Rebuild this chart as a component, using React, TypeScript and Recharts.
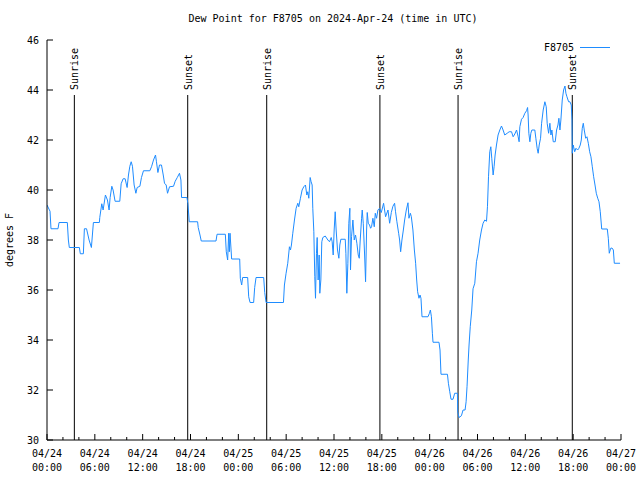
import React from 'react';
import { LineChart, Line, XAxis, YAxis, ReferenceLine, Legend } from 'recharts';

const hours: number[] = [
  0.0, 0.38, 0.5, 1.38, 1.51, 2.55, 2.68, 2.8, 4.06, 4.18, 4.56, 4.69, 4.96, 5.28, 5.57, 5.82, 6.57, 6.62, 6.87, 7.04,
  7.33, 7.58, 7.79, 7.92, 8.13, 8.29, 8.54, 9.13, 9.3, 9.55, 9.8, 10.05, 10.22, 10.39, 10.56, 10.72, 10.93, 11.15, 11.31, 11.65,
  11.85, 12.1, 12.9, 13.11, 13.36, 13.61, 13.73, 13.91, 14.11, 14.36, 14.58, 14.74, 14.95, 15.12, 15.37, 15.87, 16.08, 16.34, 16.62, 16.8,
  16.88, 17.55, 17.68, 17.84, 18.89, 18.97, 19.19, 19.35, 21.2, 21.33, 22.37, 22.49, 22.66, 22.79, 22.87, 22.96, 23.16, 24.17, 24.25, 24.42,
  24.54, 25.17, 25.3, 25.47, 25.92, 26.05, 26.22, 27.18, 27.31, 27.48, 29.66, 29.78, 29.99, 30.2, 30.41, 30.54, 30.66, 30.83, 31.04, 31.25,
  31.46, 31.58, 31.79, 32.0, 32.21, 32.42, 32.59, 32.71, 32.84, 33.01, 33.13, 33.26, 33.34, 33.47, 33.59, 33.68, 33.8, 33.89, 34.01, 34.14,
  34.22, 34.35, 34.47, 34.6, 34.9, 35.23, 35.44, 35.65, 35.77, 35.9, 36.02, 36.15, 36.27, 36.44, 36.61, 36.73, 36.86, 37.41, 37.49, 37.61,
  37.74, 37.86, 37.99, 38.07, 38.2, 38.37, 38.54, 38.7, 38.87, 39.04, 39.17, 39.29, 39.46, 39.54, 39.67, 39.84, 39.96, 40.09, 40.17, 40.3,
  40.46, 40.59, 40.71, 40.88, 41.05, 41.18, 41.34, 41.51, 41.72, 41.93, 42.22, 42.47, 42.77, 42.98, 43.19, 43.39, 43.6, 43.72, 43.89, 44.11,
  44.23, 44.36, 44.52, 44.7, 44.86, 45.07, 45.28, 45.4, 45.58, 45.7, 45.9, 46.08, 46.24, 46.37, 46.49, 46.66, 46.79, 46.91, 47.04, 47.79,
  47.97, 48.09, 48.22, 48.34, 48.42, 49.17, 49.3, 49.42, 50.23, 50.35, 50.52, 50.68, 50.93, 51.14, 51.48, 51.52, 51.68, 51.98, 52.19, 52.44,
  52.57, 52.69, 52.84, 52.94, 53.09, 53.28, 53.44, 53.66, 53.87, 54.07, 54.28, 54.5, 54.7, 54.91, 55.13, 55.25, 55.38, 55.54, 55.67, 55.79,
  55.96, 56.08, 56.21, 56.38, 56.58, 56.8, 57.01, 57.21, 57.42, 57.72, 57.97, 58.27, 58.47, 58.68, 58.9, 59.1, 59.22, 59.31, 59.52, 59.72,
  59.94, 60.15, 60.28, 60.35, 60.44, 60.57, 60.69, 60.82, 61.19, 61.32, 61.48, 61.61, 61.74, 61.91, 62.04, 62.24, 62.45, 62.62, 62.74, 62.92,
  63.08, 63.21, 63.33, 63.5, 63.75, 63.92, 64.09, 64.21, 64.34, 64.46, 64.63, 64.8, 64.97, 65.09, 65.22, 65.43, 65.59, 65.76, 65.85, 65.89,
  66.01, 66.19, 66.35, 66.56, 66.72, 66.89, 67.02, 67.14, 67.27, 67.39, 67.57, 67.73, 67.9, 68.07, 68.23, 68.4, 68.57, 68.74, 68.9, 69.08,
  69.24, 69.4, 69.58, 70.28, 70.41, 70.53, 70.71, 70.87, 71.04, 71.16, 71.88,
];

const dewPoint: number[] = [
  39.4, 39.15, 38.45, 38.45, 38.7, 38.7, 38.0, 37.7, 37.7, 37.45, 37.45, 38.45, 38.45, 38.0, 37.7, 38.7, 38.7, 38.9, 39.45, 39.2,
  39.8, 39.6, 39.2, 39.7, 40.15, 40.0, 39.55, 39.55, 40.25, 40.45, 40.45, 40.1, 40.6, 40.95, 41.13, 40.95, 40.2, 39.87, 40.1, 40.15,
  40.5, 40.77, 40.77, 40.93, 41.2, 41.4, 41.13, 40.7, 41.0, 41.0, 40.6, 40.27, 40.2, 39.87, 40.13, 40.15, 40.35, 40.5, 40.67, 40.4,
  39.7, 39.7, 39.45, 38.73, 38.73, 38.5, 38.2, 37.96, 37.96, 38.23, 38.23, 37.53, 37.2, 38.27, 37.53, 38.27, 37.24, 37.24, 36.47, 36.2,
  36.5, 36.5, 35.73, 35.5, 35.5, 36.1, 36.5, 36.5, 35.9, 35.5, 35.5, 36.2, 36.67, 37.07, 37.73, 37.6, 37.8, 38.27, 38.8, 39.27,
  39.47, 39.33, 39.67, 40.0, 40.13, 40.2, 39.8, 39.93, 39.67, 40.5, 40.33, 40.2, 39.27, 38.33, 36.53, 35.67, 37.47, 38.1, 36.4, 37.4,
  35.87, 36.4, 37.93, 38.1, 38.16, 38.0, 37.93, 38.1, 37.93, 37.4, 38.4, 39.13, 38.4, 37.6, 37.27, 37.8, 38.03, 38.03, 37.47, 35.87,
  37.07, 38.67, 39.27, 36.8, 38.13, 38.8, 38.0, 38.2, 37.87, 37.4, 37.27, 38.0, 38.87, 39.2, 38.67, 37.4, 36.33, 38.4, 39.1, 38.67,
  38.6, 38.47, 38.53, 38.87, 38.53, 39.07, 38.87, 39.2, 39.27, 39.1, 39.47, 38.93, 39.2, 38.67, 39.1, 39.35, 39.47, 39.13, 38.73, 38.27,
  38.0, 37.53, 38.0, 38.4, 38.8, 39.2, 39.49, 38.87, 39.07, 38.93, 38.4, 37.6, 37.07, 36.4, 35.93, 35.67, 35.8, 35.67, 34.93, 34.93,
  35.07, 35.2, 34.93, 34.27, 33.91, 33.91, 33.6, 32.63, 32.63, 32.27, 31.93, 31.63, 31.63, 31.87, 31.87, 31.13, 30.9, 30.97, 31.2, 31.2,
  31.53, 32.15, 33.2, 33.8, 34.53, 35.2, 36.05, 36.27, 37.13, 37.47, 38.0, 38.4, 38.67, 38.8, 38.75, 39.33, 40.53, 41.53, 41.73, 41.27,
  40.6, 40.93, 41.4, 41.8, 42.2, 42.4, 42.56, 42.4, 42.2, 42.27, 42.33, 42.33, 42.13, 42.24, 42.4, 42.13, 41.93, 42.53, 42.83, 42.9,
  43.07, 43.17, 43.3, 43.0, 42.27, 41.93, 42.27, 42.4, 42.4, 42.07, 41.67, 41.47, 41.8, 42.07, 42.67, 43.2, 43.53, 43.33, 42.67, 42.27,
  42.67, 42.2, 42.4, 41.93, 41.93, 42.4, 42.6, 42.87, 42.4, 42.8, 43.6, 44.0, 44.16, 43.87, 43.73, 43.53, 43.53, 43.4, 42.8, 41.47,
  41.8, 41.53, 41.67, 41.6, 41.67, 41.8, 42.0, 42.47, 42.67, 42.4, 42.07, 42.13, 41.87, 41.53, 41.33, 40.93, 40.53, 40.2, 39.87, 39.67,
  39.53, 39.13, 38.44, 38.44, 38.07, 37.47, 37.67, 37.68, 37.6, 37.07, 37.07,
];

const xTickHours: number[] = [0, 2, 4, 6, 8, 10, 12, 14, 16, 18, 20, 22, 24, 26, 28, 30, 32, 34, 36, 38, 40, 42, 44, 46, 48, 50, 52, 54, 56, 58, 60, 62, 64, 66, 68, 70, 72];
const xTickDates: string[] = ['04/24', '04/24', '04/24', '04/24', '04/25', '04/25', '04/25', '04/25', '04/26', '04/26', '04/26', '04/26', '04/27'];
const xTickTimes: string[] = ['00:00', '06:00', '12:00', '18:00', '00:00', '06:00', '12:00', '18:00', '00:00', '06:00', '12:00', '18:00', '00:00'];
const yTicks: number[] = [30, 32, 34, 36, 38, 40, 42, 44, 46];
const sunLabels: string[] = ['Sunrise', 'Sunset', 'Sunrise', 'Sunset', 'Sunrise', 'Sunset'];
const sunHours: number[] = [3.43, 17.65, 27.56, 41.76, 51.56, 65.89];

const seriesName = 'F8705';
const title = 'Dew Point for F8705 on 2024-Apr-24 (time in UTC)';
const yLabel = 'degrees F';

const FONT = '"DejaVu Sans Mono", "Liberation Mono", monospace';
const LINE_COLOR = '#1e8cff';

const data = hours.map((h, i) => ({ h, v: dewPoint[i] }));

const BottomTick = (props: any) => {
  const { x, y, payload } = props;
  const v = payload.value as number;
  const major = v % 6 === 0;
  const idx = v / 6;
  return (
    <g>
      <line x1={x} x2={x} y1={y} y2={y - (major ? 6 : 3)} stroke="#000" strokeWidth={1} />
      {major && (
        <text x={x} y={y + 17} textAnchor="middle" fontFamily={FONT} fontSize={10} fill="#000">
          <tspan x={x} dy={0}>{xTickDates[idx]}</tspan>
          <tspan x={x} dy={14}>{xTickTimes[idx]}</tspan>
        </text>
      )}
    </g>
  );
};

const TopTick = (props: any) => {
  const { x, y, payload } = props;
  const v = payload.value as number;
  const major = v % 6 === 0;
  return <line x1={x} x2={x} y1={y} y2={y + (major ? 6 : 3)} stroke="#000" strokeWidth={1} />;
};

const LeftTick = (props: any) => {
  const { x, y, payload } = props;
  return (
    <g>
      <line x1={x} x2={x + 6} y1={y} y2={y} stroke="#000" strokeWidth={1} />
      <text x={x - 8} y={y + 4} textAnchor="end" fontFamily={FONT} fontSize={10} fill="#000">
        {payload.value}
      </text>
    </g>
  );
};

const RightTick = (props: any) => {
  const { x, y } = props;
  return <line x1={x} x2={x - 6} y1={y} y2={y} stroke="#000" strokeWidth={1} />;
};

const makeSunShape = (label: string) => (p: any) => {
  const x = p.x1;
  const yTop = Math.min(p.y1, p.y2);
  const yBot = Math.max(p.y1, p.y2);
  return (
    <g>
      <line x1={x} x2={x} y1={yTop} y2={yBot} stroke="#000" strokeWidth={1} />
      <text
        transform={`translate(${x + 4},${yTop - 5}) rotate(-90)`}
        textAnchor="start"
        fontFamily={FONT}
        fontSize={10}
        fill="#000"
      >
        {label}
      </text>
    </g>
  );
};

const LegendContent = () => (
  <svg width={100} height={20} style={{ display: 'block', overflow: 'visible' }}>
    <text x={44} y={13} textAnchor="end" fontFamily={FONT} fontSize={10} fill="#000">
      {seriesName}
    </text>
    <line x1={50} x2={80} y1={9.5} y2={9.5} stroke={LINE_COLOR} strokeWidth={1} />
  </svg>
);

export default function App() {
  return (
    <div style={{ position: 'absolute', left: 0, top: 0, width: 640, height: 480, background: '#fff' }}>
      <div
        style={{
          position: 'absolute',
          left: 0,
          top: 12,
          width: 666,
          textAlign: 'center',
          fontFamily: FONT,
          fontSize: 10,
          lineHeight: '14px',
          color: '#000',
        }}
      >
        {title}
      </div>
      <div
        style={{
          position: 'absolute',
          left: 3,
          top: 233,
          width: 14,
          height: 14,
          fontFamily: FONT,
          fontSize: 10,
          lineHeight: '14px',
          color: '#000',
          whiteSpace: 'nowrap',
          transform: 'rotate(-90deg)',
          transformOrigin: '7px 7px',
          display: 'flex',
          justifyContent: 'center',
        }}
      >
        <span>{yLabel}</span>
      </div>
      <LineChart width={640} height={480} data={data} margin={{ top: 40, right: 19, bottom: 0, left: 0 }}>
        <XAxis
          xAxisId="b"
          dataKey="h"
          type="number"
          domain={[0, 72]}
          ticks={xTickHours}
          interval={0}
          height={40}
          tickLine={false}
          tickSize={0}
          tickMargin={0}
          tick={<BottomTick />}
          axisLine={{ stroke: '#000', strokeWidth: 1 }}
          allowDataOverflow
        />
        <XAxis
          xAxisId="t"
          orientation="top"
          type="number"
          dataKey="h"
          domain={[0, 72]}
          ticks={xTickHours}
          interval={0}
          height={0}
          tickLine={false}
          tickSize={0}
          tickMargin={0}
          tick={<TopTick />}
          axisLine={{ stroke: '#000', strokeWidth: 1 }}
          allowDataOverflow
        />
        <YAxis
          yAxisId="l"
          type="number"
          domain={[30, 46]}
          ticks={yTicks}
          interval={0}
          width={47}
          tickLine={false}
          tickSize={0}
          tickMargin={0}
          tick={<LeftTick />}
          axisLine={{ stroke: '#000', strokeWidth: 1 }}
          allowDataOverflow
        />
        <YAxis
          yAxisId="r"
          orientation="right"
          type="number"
          domain={[30, 46]}
          ticks={yTicks}
          interval={0}
          width={0}
          tickLine={false}
          tickSize={0}
          tickMargin={0}
          tick={<RightTick />}
          axisLine={{ stroke: '#000', strokeWidth: 1 }}
          allowDataOverflow
        />
        {sunHours.map((h, i) => (
          <ReferenceLine
            key={`sun-${i}`}
            xAxisId="b"
            yAxisId="l"
            segment={[{ x: h, y: 30 }, { x: h, y: 43.8 }]}
            shape={makeSunShape(sunLabels[i])}
            ifOverflow="visible"
          />
        ))}
        <Line
          xAxisId="b"
          yAxisId="l"
          type="linear"
          dataKey="v"
          name={seriesName}
          stroke={LINE_COLOR}
          strokeWidth={1}
          dot={false}
          activeDot={false}
          isAnimationActive={false}
        />
        <Legend
          layout="horizontal"
          verticalAlign="middle"
          align="center"
          content={<LegendContent />}
          wrapperStyle={{ position: 'absolute', left: 530, top: 38, width: 100, height: 20 }}
        />
      </LineChart>
    </div>
  );
}
